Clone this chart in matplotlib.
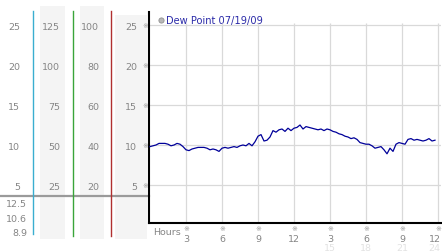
import numpy as np
import matplotlib.pyplot as plt
from matplotlib import transforms
from matplotlib.patches import Rectangle

# dew point readings for 07/19/09, one every 15 minutes
hours = np.arange(0, 24, 0.25)
dew = [9.8, 9.9, 10.0, 10.2, 10.2, 10.2, 10.1, 9.9, 10.0, 10.2, 10.1, 9.8,
       9.4, 9.3, 9.5, 9.6, 9.7, 9.7, 9.7, 9.6, 9.4, 9.5, 9.4, 9.2,
       9.6, 9.7, 9.6, 9.7, 9.8, 9.7, 9.9, 10.0, 9.9, 10.2, 9.9, 10.4,
       11.1, 11.3, 10.5, 10.6, 11.0, 11.8, 11.6, 11.9, 12.0, 11.7, 12.1, 11.8,
       12.1, 12.2, 12.5, 12.0, 12.3, 12.2, 12.1, 12.0, 11.9, 12.0, 11.8, 12.0,
       11.9, 11.7, 11.6, 11.4, 11.3, 11.1, 11.0, 10.8, 10.9, 10.7, 10.3, 10.2,
       10.1, 10.1, 9.9, 9.6, 9.7, 9.8, 9.4, 8.9, 9.6, 9.2, 10.1, 10.3,
       10.2, 10.1, 10.7, 10.8, 10.6, 10.7, 10.6, 10.5, 10.6, 10.8, 10.5, 10.6]

ygrid = [25, 20, 15, 10, 5]
col1 = ["25", "20", "15", "10", "5"]
col2 = ["125", "100", "75", "50", "25"]
col3 = ["100", "80", "60", "40", "20"]
col4 = ["25", "20", "15", "10", "5"]
stats = ["12.5", "10.6", "8.9"]

xticks = [3, 6, 9, 12, 15, 18, 21, 24]
xlabels = ["3", "6", "9", "12", "3", "6", "9", "12"]
xlabels2 = ["", "", "", "", "15", "18", "21", "24"]

W, H = 442, 253
fig = plt.figure(figsize=(W / 100, H / 100), dpi=100)

# background overlay in pixel coordinates
bg = fig.add_axes([0, 0, 1, 1])
bg.set_xlim(0, W)
bg.set_ylim(H, 0)
bg.axis("off")

# main chart
ax = fig.add_axes([149 / W, (H - 224) / H, 292 / W, 211 / H])
ax.set_xlim(-1 / 12, 24.25)
ax.set_ylim(0.25, 26.625)
for s in ["top", "right"]:
    ax.spines[s].set_visible(False)
for s in ["left", "bottom"]:
    ax.spines[s].set_linewidth(1.5)
    ax.spines[s].set_color("black")
ax.set_xticks([])
ax.set_yticks([])
ax.patch.set_alpha(0)

ax.hlines(ygrid, -1 / 12, 24.25, color="#d9d9d9", lw=0.9, zorder=1)
ax.vlines(xticks, 0.25, 25.3, color="#d9d9d9", lw=0.9, zorder=1)
ax.plot(hours, dew, color="#000099", lw=0.9, zorder=3)

# legend
bg.scatter([161], [20.5], s=14, color="#b8b8b8", edgecolor="#909090", lw=0.6)
bg.text(166, 20.8, "Dew Point 07/19/09", color="#2a2aa8", fontsize=7.1,
        va="center", ha="left")

# left panel columns
bg.add_patch(Rectangle((40, 7), 25, 233, color="#f4f4f4", lw=0))
bg.add_patch(Rectangle((80, 7), 24, 233, color="#f4f4f4", lw=0))
bg.add_patch(Rectangle((115, 16), 32, 224, color="#f4f4f4", lw=0))
bg.plot([0, 149], [197, 197], color="#9a9a9a", lw=1.6)
bg.plot([33, 33], [12, 235], color="#3aaed0", lw=1)
bg.plot([72.5, 72.5], [12, 237], color="#3aa53a", lw=1)
bg.plot([111, 111], [12, 237], color="#b03030", lw=1)

mix = transforms.blended_transform_factory(bg.transData, ax.transData)
tc = "#858585"
for v, a, b, c, d in zip(ygrid, col1, col2, col3, col4):
    kw = dict(transform=mix, fontsize=6.8, color=tc, ha="right", va="center_baseline")
    bg.text(20, v, a, **kw)
    bg.text(60, v, b, **kw)
    bg.text(99, v, c, **kw)
    bg.text(137, v, d, **kw)
    bg.text(145.5, v, "※", transform=mix, fontsize=5, color="#9a9a9a",
            ha="center", va="center")

for y, s in zip([204, 218.5, 232.5], stats):
    bg.text(27, y, s, fontsize=6.8, color=tc, ha="right", va="center_baseline")

# x axis labels
xmix = transforms.blended_transform_factory(ax.transData, bg.transData)
bg.text(153, 232, "Hours", fontsize=6.8, color=tc, ha="left", va="center_baseline")
for h, l1, l2 in zip(xticks, xlabels, xlabels2):
    bg.text(h, 229.5, "※", transform=xmix, fontsize=5, color="#9a9a9a",
            ha="center", va="center")
    if h == xticks[-1]:
        # last labels are pushed in so they stay inside the picture
        bg.text(440.5, 238.5, l1, fontsize=6.8, color=tc,
                ha="right", va="center_baseline")
        bg.text(440.5, 247.5, l2, fontsize=6.8, color="#e2e2e2",
                ha="right", va="center_baseline")
        continue
    bg.text(h, 238.5, l1, transform=xmix, fontsize=6.8, color=tc,
            ha="center", va="center_baseline")
    if l2:
        bg.text(h, 247.5, l2, transform=xmix, fontsize=6.8, color="#e2e2e2",
                ha="center", va="center_baseline")

fig.savefig("out.png", dpi=100)
